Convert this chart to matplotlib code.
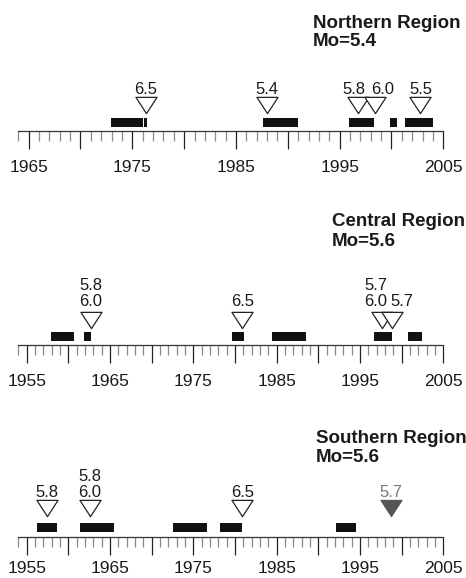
import matplotlib
matplotlib.use('Agg')
import matplotlib.pyplot as plt
from matplotlib.path import Path
from matplotlib.ticker import MultipleLocator, FuncFormatter

plt.rcParams['font.family'] = ['Liberation Sans', 'DejaVu Sans']

# ---- data ----
north_title = "Northern Region\nMo=5.4"
north_starts = [1972.9, 1976.15, 1987.65, 1995.9, 1999.9, 2001.3]
north_ends = [1976.0, 1976.4, 1990.95, 1998.3, 2000.5, 2004.0]
north_quakes = [1976.3, 1988.0, 1996.8, 1998.4, 2002.8]
north_labels = ["6.5", "5.4", "5.8", "6.0", "5.5"]

central_title = "Central Region\nMo=5.6"
central_starts = [1957.9, 1961.9, 1979.7, 1984.5, 1996.7, 2000.8]
central_ends = [1960.7, 1962.7, 1981.1, 1988.5, 1998.85, 2002.5]
central_quakes = [1962.7, 1980.9, 1997.6, 1998.8]
central_labels = ["5.8\n6.0", "6.5", "5.7\n6.0", "5.7"]

south_title = "Southern Region\nMo=5.6"
south_starts = [1956.2, 1961.4, 1972.6, 1978.2, 1992.1]
south_ends = [1958.6, 1965.5, 1976.6, 1980.9, 1994.5]
south_quakes = [1957.4, 1962.6, 1980.9, 1998.7]
south_labels = ["5.8", "5.8\n6.0", "6.5", "5.7"]
south_gray = [False, False, False, True]

W, H = 466, 578
fig = plt.figure(figsize=(W / 100, H / 100), dpi=100)

# downward triangle, a bit flatter than equilateral
tri = Path([(-1, 0.77), (1, 0.77), (0, -0.77), (-1, 0.77)],
           [Path.MOVETO, Path.LINETO, Path.LINETO, Path.CLOSEPOLY])


def panel(axis_y, x0, starts, ends, quakes, labels, title, title_xy,
          bar_y, tri_y, lab_y, lab_dx=None, gray=None, pad=8.0):
    ax = fig.add_axes([18.3 / W, 1 - axis_y / H, 425 / W, 80 / H])
    ax.set_xlim(x0, 2005)
    ax.set_ylim(0, 80)
    ax.patch.set_visible(False)
    for s in ['left', 'right', 'top']:
        ax.spines[s].set_visible(False)
    ax.spines['bottom'].set_color('#333333')
    ax.spines['bottom'].set_linewidth(0.9)
    ax.set_yticks([])

    ax.xaxis.set_major_locator(MultipleLocator(5))
    ax.xaxis.set_minor_locator(MultipleLocator(1))
    ax.xaxis.set_major_formatter(FuncFormatter(
        lambda v, p: '%d' % v if int(round(v)) % 10 == 5 else ''))
    ax.tick_params(axis='x', which='major', direction='out', length=12.8,
                   width=0.9, color='#222222', pad=pad, labelsize=12.5,
                   labelcolor='#1a1a1a')
    ax.tick_params(axis='x', which='minor', direction='out', length=7.5,
                   width=0.9, color='#8a8a8a')

    ax.broken_barh([(s, e - s) for s, e in zip(starts, ends)],
                   (bar_y[0], bar_y[1] - bar_y[0]), facecolors='#111111')

    if lab_dx is None:
        lab_dx = [0] * len(quakes)
    if gray is None:
        gray = [False] * len(quakes)
    for q, lab, dx, g in zip(quakes, labels, lab_dx, gray):
        if g:
            ax.plot([q], [tri_y], marker=tri, markersize=15.2, color='#555555',
                    markeredgewidth=0.8, clip_on=False)
            tc = '#777777'
        else:
            ax.plot([q], [tri_y], marker=tri, markersize=15.2,
                    markerfacecolor='white', markeredgecolor='#222222',
                    markeredgewidth=0.9, clip_on=False)
            tc = '#1a1a1a'
        ax.annotate(lab, (q, lab_y), xytext=(dx, 0), textcoords='offset points',
                    ha='center', va='bottom', fontsize=12, color=tc,
                    linespacing=1.08, annotation_clip=False)

    t1, t2 = title.split('\n')
    fig.text(title_xy[0] / W, 1 - title_xy[1] / H, t1, fontsize=13.5,
             fontweight='bold', color='#1a1a1a', ha='left', va='center')
    fig.text(title_xy[0] / W, 1 - title_xy[2] / H, t2, fontsize=13.5,
             fontweight='bold', color='#1a1a1a', ha='left', va='center')
    return ax


panel(130.7, 1964, north_starts, north_ends, north_quakes, north_labels,
      north_title, (313, 23.5, 41.5), (4, 12.4), 25.3, 34.0,
      lab_dx=[0, 0, -3, 5.5, 0])
panel(345, 1954, central_starts, central_ends, central_quakes, central_labels,
      central_title, (332, 221.5, 241), (4, 13), 25.5, 36.5,
      lab_dx=[0, 0, -4, 7.5])
panel(536.7, 1954, south_starts, south_ends, south_quakes, south_labels,
      south_title, (316, 438.5, 458), (5, 13.4), 28.5, 36.5,
      gray=south_gray, pad=5.0)

fig.savefig('out.png', dpi=100)
